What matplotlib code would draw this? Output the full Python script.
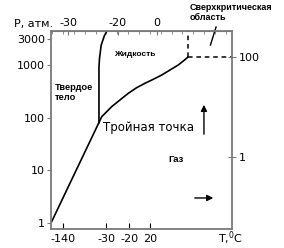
import numpy as np
import matplotlib
matplotlib.use("Agg")
import matplotlib.pyplot as plt

plt.rcParams['font.family'] = ['DejaVu Sans']

# schematic phase diagram: x is a position along a non-linear T axis (0..100), y is P in atm
sub_x = [0.4, 26.5]
sub_p = [1.09, 80.5]

melt_x = [26.5, 26.5, 26.5, 26.8, 27.7, 29.5, 30.9]
melt_p = [80.5, 500, 897, 1300, 2300, 3500, 4290]

vap_x = [26.5, 28.0, 30.8, 33.5, 38.1, 42.7, 47.3, 51.9, 56.5, 61.2, 65.7, 70.3, 73.1, 75.5]
vap_p = [80.5, 103.5, 129, 160, 214, 286, 365, 442, 526, 634, 787, 979, 1164, 1367]

crit_x = 75.5
crit_p = 1367

left_ticks = [1, 10, 100, 1000, 3000]
left_labels = ['1', '10', '100', '1000', '3000']
right_ticks = [1, 100]
right_labels = ['1', '100']
bottom_pos = [6.6, 30.4, 43.3, 54.9]
bottom_labels = ['-140', '-30', '-20', '20']
top_pos = [9.4, 37.0, 58.6]
top_labels = ['-30', '-20', '0']

spine_c = '#7a7a7a'

fig = plt.figure(figsize=(2.84, 2.48), dpi=100)
ax = fig.add_axes([51/284, 1-229/248, 181/284, 198/248])
ax.set_yscale('log')
ax.set_xlim(0, 100)
ax.set_ylim(0.787, 4290)

ax.plot(sub_x, sub_p, color='black', lw=1.2)
ax.plot(melt_x, melt_p, color='black', lw=1.2)
ax.plot(vap_x, vap_p, color='black', lw=1.2)
ax.plot([crit_x, crit_x], [crit_p, 4290], color='black', lw=1.1, ls=(0, (3, 2.5)))
ax.plot([crit_x, 100], [crit_p, crit_p], color='black', lw=1.1, ls=(0, (3, 2.5)))

# pointer to supercritical label
ax.plot([88.1, 91.2], [2334, 5100], color='black', lw=1.0, clip_on=False)

# arrows
ax.annotate('', xy=(84.5, 196), xytext=(84.5, 42.9),
            arrowprops=dict(arrowstyle='-|>', color='black', lw=1.0, mutation_scale=9))
ax.annotate('', xy=(91.2, 3.03), xytext=(77.9, 3.03),
            arrowprops=dict(arrowstyle='-|>', color='black', lw=1.0, mutation_scale=9))

for s in ax.spines.values():
    s.set_color(spine_c)
    s.set_linewidth(1.3)

ax.set_yticks(left_ticks)
ax.set_yticklabels(left_labels)
ax.minorticks_off()
ax.tick_params(axis='y', direction='out', length=3, pad=1.5, labelsize=8, color=spine_c)
ax.set_xticks(bottom_pos)
ax.set_xticklabels(bottom_labels)
ax.tick_params(axis='x', direction='in', length=4, pad=3.5, labelsize=8, color='black')

top = ax.secondary_xaxis('top')
top.set_xticks(top_pos)
top.set_xticklabels(top_labels)
top.set_xticks(np.arange(0.6, 100, 6.0), minor=True)
top.tick_params(which='major', direction='in', length=3, pad=2, labelsize=8, color=spine_c)
top.tick_params(which='minor', direction='in', length=2.5, color=spine_c)
top.spines['top'].set_color(spine_c)

ax2 = ax.twinx()
ax2.set_yscale('log')
ax2.set_ylim(0.0363, 331)
ax2.set_yticks(right_ticks)
ax2.set_yticklabels(right_labels)
ax2.minorticks_off()
ax2.tick_params(axis='y', direction='inout', length=6, pad=2, labelsize=8, color=spine_c)
for s in ax2.spines.values():
    s.set_visible(False)

# labels (figure pixel positions)
def ftext(px, py, s, **kw):
    fig.text(px/284, 1-py/248, s, **kw)

bold = dict(family='Liberation Sans', fontweight='bold', va='center')
ftext(34, 24, 'P, атм.', fontsize=8, ha='center', va='center')
ftext(230, 238, 'T,$^0$C', fontsize=8, ha='center', va='center')
ftext(190, 7, 'Сверхкритическая', fontsize=6.5, ha='left', **bold)
ftext(190, 17, 'область', fontsize=6.5, ha='left', **bold)
ftext(136, 54, 'Жидкость', fontsize=6.0, ha='center', **bold)
ftext(55, 88, 'Твердое', fontsize=6.7, ha='left', **bold)
ftext(55, 98, 'тело', fontsize=6.7, ha='left', **bold)
ftext(103, 127, 'Тройная точка', fontsize=8.5, ha='left', va='center')
ftext(176, 160, 'Газ', fontsize=6.8, ha='center', **bold)

fig.savefig('out.png', dpi=100)
